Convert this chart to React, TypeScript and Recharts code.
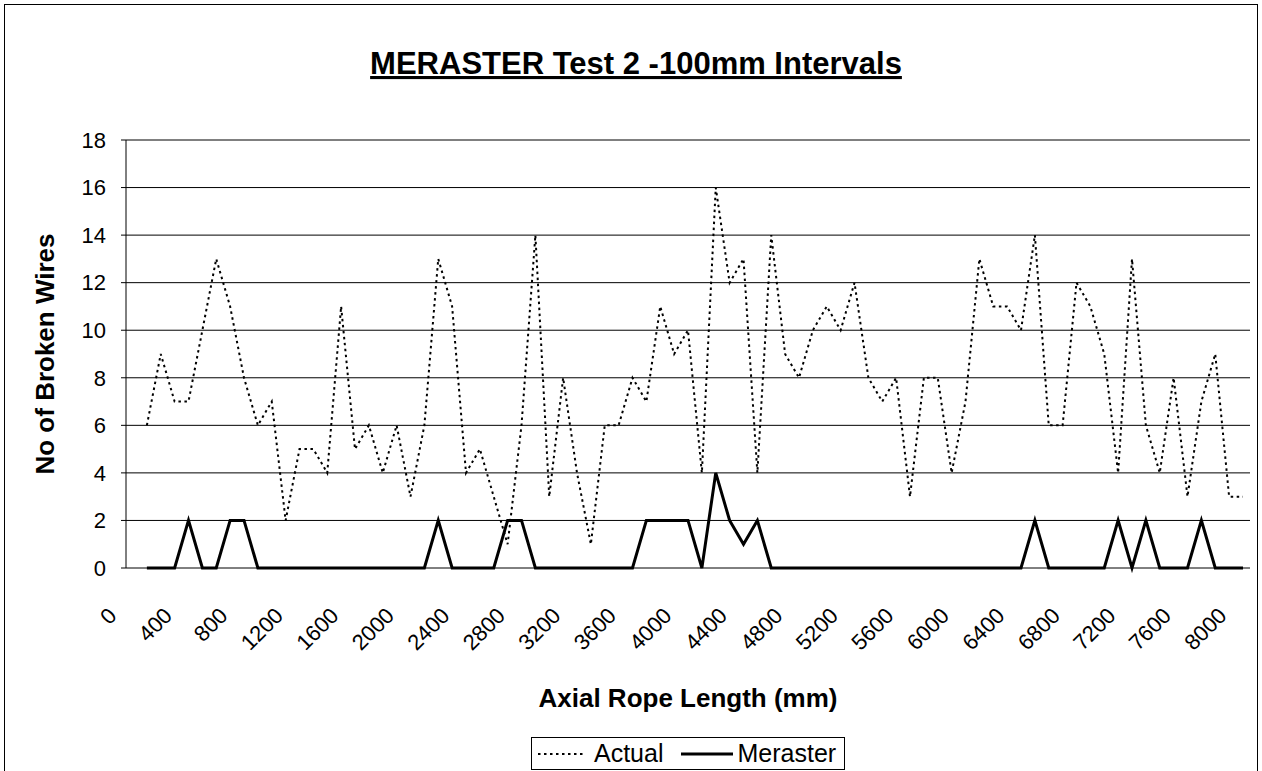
import { LineChart, Line, XAxis, YAxis, CartesianGrid, Legend } from 'recharts';

const FONT = '"Liberation Sans", Arial, Helvetica, sans-serif';

// axial position of each 100mm interval
const lengths = [
  0, 100, 200, 300, 400, 500, 600, 700, 800, 900,
  1000, 1100, 1200, 1300, 1400, 1500, 1600, 1700, 1800, 1900,
  2000, 2100, 2200, 2300, 2400, 2500, 2600, 2700, 2800, 2900,
  3000, 3100, 3200, 3300, 3400, 3500, 3600, 3700, 3800, 3900,
  4000, 4100, 4200, 4300, 4400, 4500, 4600, 4700, 4800, 4900,
  5000, 5100, 5200, 5300, 5400, 5500, 5600, 5700, 5800, 5900,
  6000, 6100, 6200, 6300, 6400, 6500, 6600, 6700, 6800, 6900,
  7000, 7100, 7200, 7300, 7400, 7500, 7600, 7700, 7800, 7900,
  8000,
];

// broken wires counted on the rope
const actual = [
  null, 6, 9, 7, 7, 10, 13, 11, 8, 6,
  7, 2, 5, 5, 4, 11, 5, 6, 4, 6,
  3, 6, 13, 11, 4, 5, 3, 1, 6, 14,
  3, 8, 4, 1, 6, 6, 8, 7, 11, 9,
  10, 4, 16, 12, 13, 4, 14, 9, 8, 10,
  11, 10, 12, 8, 7, 8, 3, 8, 8, 4,
  7, 13, 11, 11, 10, 14, 6, 6, 12, 11,
  9, 4, 13, 6, 4, 8, 3, 7, 9, 3,
  3,
];

// broken wires reported by the MERASTER instrument
const meraster = [
  null, 0, 0, 0, 2, 0, 0, 2, 2, 0,
  0, 0, 0, 0, 0, 0, 0, 0, 0, 0,
  0, 0, 2, 0, 0, 0, 0, 2, 2, 0,
  0, 0, 0, 0, 0, 0, 0, 2, 2, 2,
  2, 0, 4, 2, 1, 2, 0, 0, 0, 0,
  0, 0, 0, 0, 0, 0, 0, 0, 0, 0,
  0, 0, 0, 0, 0, 2, 0, 0, 0, 0,
  0, 2, 0, 2, 0, 0, 0, 2, 0, 0,
  0,
];

const yTicks = [0, 2, 4, 6, 8, 10, 12, 14, 16, 18];

const data = lengths.map((mm, i) => ({
  mm: String(mm),
  actual: actual[i],
  meraster: meraster[i],
}));

// tick marks sit on the boundaries between categories
const edgeTicks = [...lengths.map((_, i) => i), lengths.length];

function XTick({ x, y, payload }: any) {
  const ax = x - 15;
  const ay = y + 49;
  return (
    <text
      x={ax}
      y={ay}
      transform={`rotate(-45 ${ax} ${ay})`}
      textAnchor="end"
      fontSize={22}
      fontFamily={FONT}
      fill="#000"
    >
      {payload.value}
    </text>
  );
}

function LegendBox() {
  return (
    <div
      style={{
        display: 'flex',
        alignItems: 'center',
        border: '1px solid #000',
        background: '#fff',
        width: 314,
        height: 33,
        padding: '0 4px',
        fontFamily: FONT,
        fontSize: 25,
        color: '#000',
        boxSizing: 'border-box',
      }}
    >
      <svg width={52} height={10}>
        <line x1={2} y1={5} x2={50} y2={5} stroke="#000" strokeWidth={2} strokeDasharray="2.5 3.5" />
      </svg>
      <span style={{ marginLeft: 6 }}>Actual</span>
      <svg width={56} height={10} style={{ marginLeft: 16 }}>
        <line x1={2} y1={5} x2={54} y2={5} stroke="#000" strokeWidth={3} />
      </svg>
      <span style={{ marginLeft: 2 }}>Meraster</span>
    </div>
  );
}

export default function App() {
  return (
    <div
      style={{
        position: 'absolute',
        left: 0,
        top: 0,
        width: 1262,
        height: 771,
        background: '#fff',
        overflow: 'hidden',
      }}
    >
      <div
        style={{
          position: 'absolute',
          left: 4,
          top: 4,
          width: 1252,
          height: 800,
          border: '1px solid #000',
        }}
      />
      <LineChart
        width={1262}
        height={771}
        data={data}
        margin={{ top: 140, right: 12, bottom: 0, left: 0 }}
      >
        <CartesianGrid vertical={false} stroke="#000" strokeWidth={1} yAxisId="left" xAxisId="cat" />
        <XAxis
          xAxisId="edge"
          type="number"
          domain={[0, lengths.length]}
          ticks={edgeTicks}
          tick={false}
          tickSize={8}
          height={0}
          axisLine={{ stroke: '#000' }}
          tickLine={{ stroke: '#000' }}
          allowDataOverflow
        />
        <XAxis
          xAxisId="cat"
          dataKey="mm"
          interval={3}
          padding={{ left: 7, right: 7 }}
          axisLine={false}
          tickLine={false}
          tickSize={0}
          tickMargin={0}
          height={203}
          tick={<XTick />}
        />
        <YAxis
          yAxisId="left"
          domain={[0, 18]}
          ticks={yTicks}
          interval={0}
          width={126}
          tickSize={5}
          tickMargin={15}
          axisLine={{ stroke: '#000' }}
          tickLine={{ stroke: '#000' }}
          tick={{ fill: '#000', fontSize: 22, fontFamily: FONT }}
        />
        <YAxis
          yAxisId="right"
          orientation="right"
          domain={[0, 18]}
          width={0}
          tick={false}
          tickLine={false}
          axisLine={{ stroke: '#000' }}
        />
        <Legend
          verticalAlign="middle"
          layout="horizontal"
          wrapperStyle={{ left: 531, top: 737, width: 'auto' }}
          content={<LegendBox />}
        />
        <Line
          xAxisId="cat"
          yAxisId="left"
          type="linear"
          dataKey="actual"
          name="Actual"
          stroke="#000"
          strokeWidth={2}
          strokeDasharray="2.5 3.5"
          dot={false}
          isAnimationActive={false}
        />
        <Line
          xAxisId="cat"
          yAxisId="left"
          type="linear"
          dataKey="meraster"
          name="Meraster"
          stroke="#000"
          strokeWidth={3}
          dot={false}
          isAnimationActive={false}
        />
      </LineChart>
      <svg
        width={1262}
        height={771}
        style={{ position: 'absolute', left: 0, top: 0, pointerEvents: 'none' }}
      >
        <text
          x={636}
          y={74}
          textAnchor="middle"
          fontSize={31}
          fontWeight="bold"
          fontFamily={FONT}
          textDecoration="underline"
          fill="#000"
        >
          MERASTER Test 2 -100mm Intervals
        </text>
        <text
          x={688}
          y={707}
          textAnchor="middle"
          fontSize={26}
          fontWeight="bold"
          fontFamily={FONT}
          fill="#000"
        >
          Axial Rope Length (mm)
        </text>
        <text
          x={54}
          y={354}
          textAnchor="middle"
          transform="rotate(-90 54 354)"
          fontSize={26}
          fontWeight="bold"
          fontFamily={FONT}
          fill="#000"
        >
          No of Broken Wires
        </text>
      </svg>
    </div>
  );
}
